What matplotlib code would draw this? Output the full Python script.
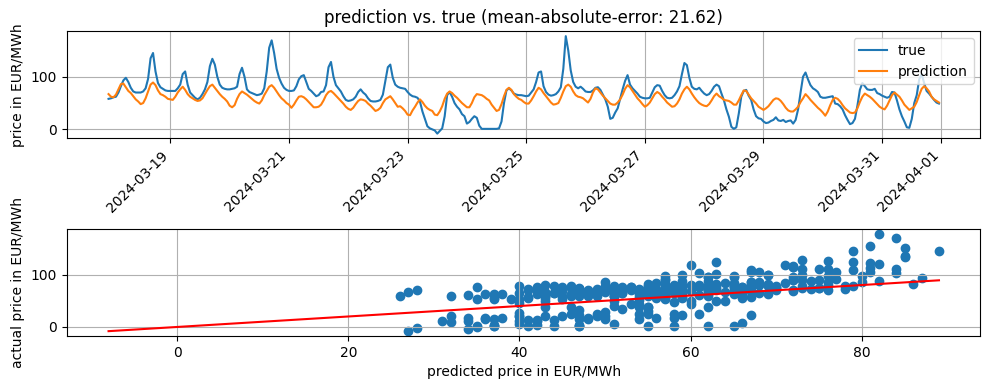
import matplotlib
matplotlib.use("Agg")
import matplotlib.pyplot as plt
import numpy as np
import pandas as pd

start_time = "2024-03-17 23:00"

true_vals = [
    58, 59, 61, 62, 70, 82, 93, 98, 90, 79, 72,
    70, 70, 70, 72, 78, 96, 135, 145, 110, 88,
    80, 77, 74, 73, 73, 73, 73, 78, 85, 105,
    110, 85, 70, 65, 60, 57, 60, 67, 76, 90,
    120, 134, 123, 100, 85, 79, 77, 76, 76, 77,
    78, 81, 105, 117, 100, 76, 71, 69, 67, 65,
    66, 68, 78, 110, 155, 169, 145, 115, 98, 87,
    79, 75, 73, 73, 74, 82, 95, 101, 103, 90,
    77, 73, 68, 63, 65, 71, 72, 84, 118, 128,
    100, 84, 78, 72, 63, 56, 54, 55, 57, 62,
    71, 76, 70, 66, 59, 54, 53, 53, 54, 56,
    66, 92, 118, 123, 98, 85, 81, 79, 78, 77,
    71, 66, 63, 62, 60, 53, 34, 20, 6, 2,
    0, -2, -8, -3, 2, 25, 65, 71, 62, 50,
    43, 38, 29, 25, 11, 14, 20, 25, 22, 7,
    1, 1, 1, 1, 1, 1, 1, 2, 15, 50,
    74, 78, 74, 68, 66, 65, 65, 64, 63, 64,
    70, 76, 90, 108, 110, 82, 71, 66, 64, 65,
    67, 72, 80, 115, 177, 150, 112, 90, 81, 78,
    81, 77, 72, 71, 71, 74, 79, 80, 75, 66,
    57, 43, 20, 22, 32, 40, 58, 76, 92, 103,
    85, 78, 73, 68, 62, 60, 59, 59, 60, 70,
    80, 84, 83, 73, 65, 60, 59, 60, 65, 72,
    82, 105, 126, 122, 98, 81, 77, 76, 79, 73,
    68, 65, 67, 73, 81, 85, 82, 68, 55, 38,
    24, 5, 1, 4, 30, 62, 73, 75, 64, 56,
    38, 25, 21, 20, 15, 12, 13, 16, 18, 23,
    17, 16, 18, 14, 16, 17, 11, 18, 38, 70,
    100, 108, 95, 84, 78, 75, 71, 62, 60, 60,
    61, 62, 63, 49, 48, 44, 38, 27, 18, 10,
    12, 20, 45, 75, 88, 82, 76, 75, 75, 77,
    69, 67, 64, 62, 60, 62, 71, 70, 55, 38,
    25, 15, 4, 3, 20, 50, 65, 95, 105, 88,
    73, 68, 62, 56, 51, 49,
]

pred_vals = [
    67, 62, 61, 66, 76, 86, 87, 80, 73, 69, 63,
    57, 53, 48, 50, 59, 72, 85, 89, 84, 74,
    67, 65, 62, 58, 57, 56, 62, 70, 76, 81,
    75, 67, 62, 59, 56, 54, 55, 59, 67, 75,
    82, 85, 79, 73, 67, 62, 58, 53, 45, 42,
    46, 58, 67, 72, 69, 66, 62, 58, 54, 51,
    49, 55, 65, 73, 81, 84, 79, 72, 65, 59,
    55, 50, 47, 41, 47, 55, 62, 63, 61, 57,
    52, 47, 42, 42, 43, 47, 55, 65, 71, 73,
    69, 64, 59, 54, 49, 43, 39, 37, 41, 48,
    54, 57, 56, 54, 49, 45, 40, 35, 37, 41,
    50, 57, 60, 63, 57, 50, 43, 44, 40, 35,
    28, 27, 36, 43, 51, 57, 52, 45, 40, 37,
    35, 28, 27, 34, 44, 58, 68, 72, 69, 64,
    60, 55, 50, 46, 42, 42, 50, 61, 67, 66,
    65, 62, 58, 55, 47, 41, 35, 37, 48, 63,
    75, 79, 75, 67, 62, 58, 56, 52, 49, 49,
    55, 63, 72, 79, 76, 69, 63, 57, 51, 47,
    48, 50, 60, 72, 82, 85, 81, 72, 65, 62,
    61, 59, 55, 51, 58, 70, 78, 76, 70, 64,
    59, 54, 49, 47, 47, 51, 57, 66, 77, 84,
    80, 73, 66, 59, 54, 48, 43, 46, 51, 59,
    67, 71, 68, 62, 57, 51, 47, 43, 44, 49,
    57, 68, 76, 81, 76, 68, 61, 55, 50, 47,
    45, 44, 48, 55, 63, 68, 63, 60, 56, 55,
    54, 51, 47, 47, 55, 65, 74, 73, 66, 59,
    54, 49, 43, 40, 37, 40, 44, 50, 56, 59,
    58, 54, 48, 41, 36, 34, 34, 38, 43, 52,
    59, 67, 62, 56, 51, 46, 41, 37, 32, 26,
    34, 46, 56, 60, 58, 53, 46, 40, 36, 32,
    31, 32, 40, 52, 62, 68, 65, 62, 58, 53,
    48, 43, 40, 38, 45, 55, 65, 70, 66, 62,
    55, 47, 42, 37, 40, 43, 52, 65, 77, 82,
    78, 72, 62, 57, 54, 51,
]

title_text = "prediction vs. true (mean-absolute-error: 21.62)"

true_arr = np.array(true_vals, dtype=float)
pred_arr = np.array(pred_vals, dtype=float)
times = pd.date_range(start_time, periods=len(true_arr), freq="h")

fig = plt.figure(figsize=(9.9, 3.89), dpi=100)
ax1 = fig.add_axes([0.0677, 0.644, 0.9227, 0.2756])
ax2 = fig.add_axes([0.0677, 0.1362, 0.9227, 0.2743])

ax1.plot(times, true_arr, label="true")
ax1.plot(times, pred_arr, label="prediction")
ax1.set_title(title_text)
ax1.set_ylabel("price in EUR/MWh")
ax1.grid(True)
ax1.legend(loc="upper right")
plt.setp(ax1.get_xticklabels(), rotation=45, ha="right")

ax2.scatter(pred_arr, true_arr)
lo = true_arr.min()
hi = pred_arr.max()
ax2.plot([lo, hi], [lo, hi], color="red")
ax2.set_xlabel("predicted price in EUR/MWh")
ax2.set_ylabel("actual price in EUR/MWh")
ax2.grid(True)

fig.savefig("out.png", dpi=100)
